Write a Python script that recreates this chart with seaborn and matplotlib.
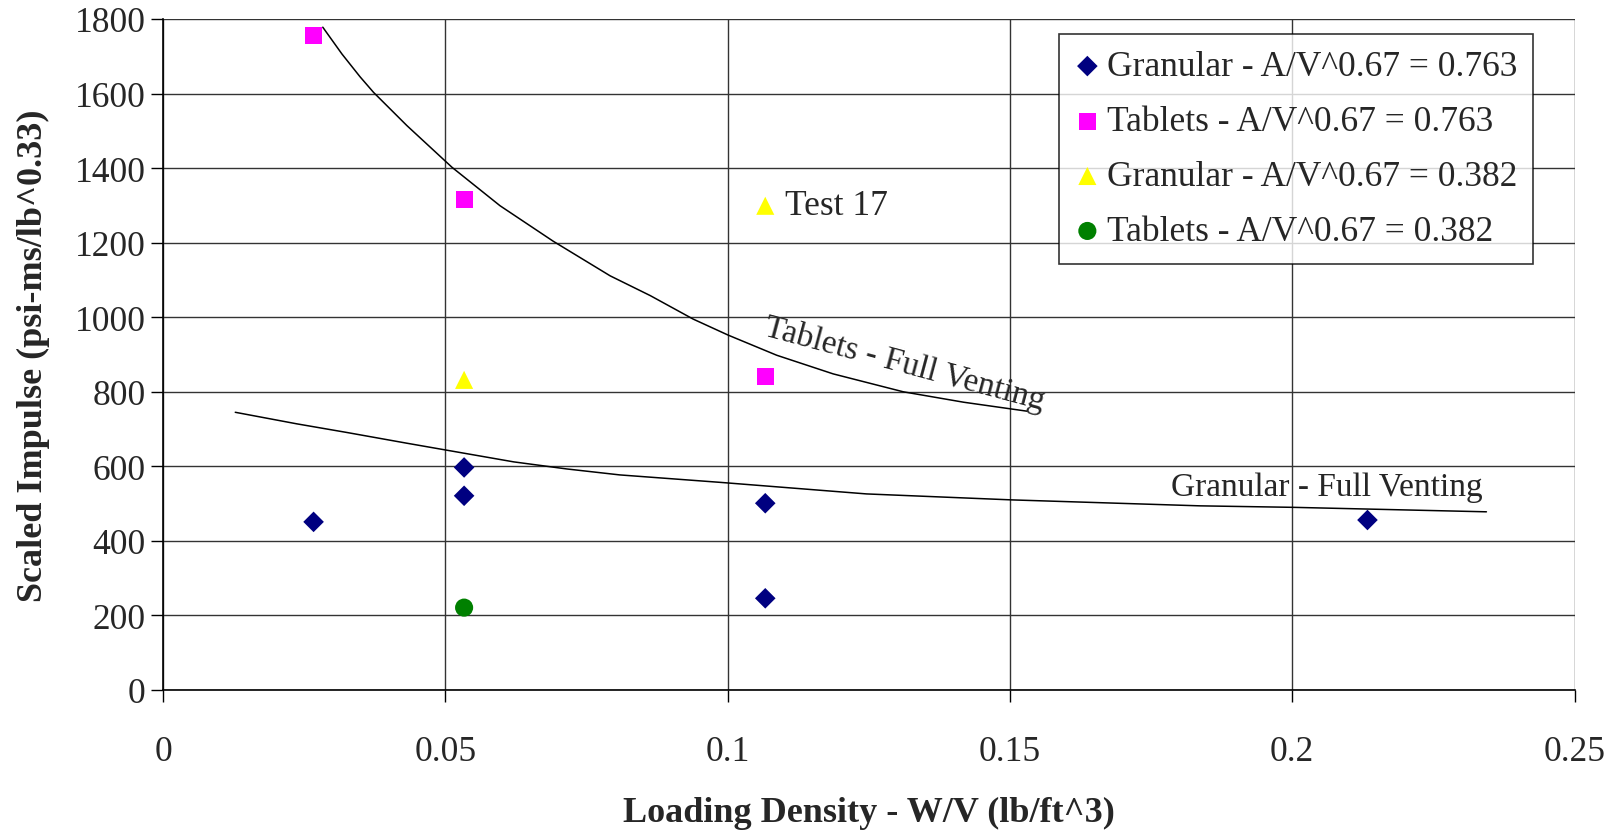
import matplotlib
matplotlib.use("Agg")
import matplotlib.pyplot as plt
import seaborn as sns
import pandas as pd

# Measured points (loading density lb/ft^3, scaled impulse psi-ms/lb^0.33)
gran_763_x = [0.02667, 0.05333, 0.05333, 0.10667, 0.10667, 0.21333]
gran_763_y = [451, 597, 521, 501, 246, 456]
tab_763_x = [0.02667, 0.05333, 0.10667]
tab_763_y = [1755, 1317, 842]
gran_382_x = [0.05333, 0.10667]
gran_382_y = [832, 1299]
tab_382_x = [0.05333]
tab_382_y = [221]

# Full-venting reference curves
tab_vent_x = [0.0283, 0.0317, 0.0349, 0.0373, 0.0432, 0.0512, 0.0597, 0.0691, 0.0792,
              0.0863, 0.0939, 0.1001, 0.1087, 0.1187, 0.1311, 0.1418, 0.1530]
tab_vent_y = [1778, 1706, 1645, 1603, 1514, 1402, 1299, 1204, 1111,
              1058, 995, 952, 898, 848, 800, 772, 748]
gran_vent_x = [0.0128, 0.0237, 0.0325, 0.0432, 0.0500, 0.0621, 0.0715, 0.0809,
               0.0987, 0.1246, 0.1503, 0.1837, 0.2002, 0.2344]
gran_vent_y = [745, 714, 691, 662, 644, 612, 593, 577,
               557, 526, 510, 494, 490, 478]

series_names = ["Granular - A/V^0.67 = 0.763", "Tablets - A/V^0.67 = 0.763",
                "Granular - A/V^0.67 = 0.382", "Tablets - A/V^0.67 = 0.382"]
series_colors = ["#000080", "#FF00FF", "#FFFF00", "#008000"]
series_markers = ["D", "s", "^", "o"]
series_sizes = [110, 150, 170, 170]

x_ticks = [0, 0.05, 0.1, 0.15, 0.2, 0.25]
x_tick_labels = ["0", "0.05", "0.1", "0.15", "0.2", "0.25"]
y_ticks = [0, 200, 400, 600, 800, 1000, 1200, 1400, 1600, 1800]

FS = 25.5

sns.set_style("white")
plt.rcParams["font.family"] = ["Liberation Serif", "DejaVu Serif"]

fig = plt.figure(figsize=(16.2, 8.37), dpi=100)
ax = fig.add_axes([163 / 1620, 1 - 691 / 837, (1574.5 - 163) / 1620, (691 - 20) / 837])

# Curves
curves = pd.DataFrame({
    "x": tab_vent_x + gran_vent_x,
    "y": tab_vent_y + gran_vent_y,
    "curve": ["tab"] * len(tab_vent_x) + ["gran"] * len(gran_vent_x),
})
sns.lineplot(data=curves, x="x", y="y", units="curve", estimator=None,
             sort=False, color="black", lw=1.1, ax=ax, legend=False, zorder=3)

# Scatter series
pts = pd.DataFrame({
    "x": gran_763_x + tab_763_x + gran_382_x + tab_382_x,
    "y": gran_763_y + tab_763_y + gran_382_y + tab_382_y,
    "series": [series_names[0]] * len(gran_763_x) + [series_names[1]] * len(tab_763_x)
              + [series_names[2]] * len(gran_382_x) + [series_names[3]] * len(tab_382_x),
})
for name, col, mk, sz in zip(series_names, series_colors, series_markers, series_sizes):
    sub = pts[pts["series"] == name]
    sns.scatterplot(data=sub, x="x", y="y", color=col, marker=mk, s=sz,
                    edgecolor="none", linewidth=0, ax=ax, label=name, zorder=4)

ax.set_xlim(0, 0.25)
ax.set_ylim(0, 1800)
ax.set_xticks(x_ticks)
ax.set_xticklabels(x_tick_labels)
ax.set_yticks(y_ticks)
ax.grid(True, color="#333333", lw=1.0)
ax.set_axisbelow(True)
for side in ["top", "right"]:
    ax.spines[side].set_visible(False)
for side in ["left", "bottom"]:
    ax.spines[side].set_color("black")
    ax.spines[side].set_linewidth(1.2)

ax.tick_params(axis="both", which="major", direction="out", length=8.5,
               width=1.0, color="black", labelsize=FS, left=True, bottom=True)
ax.tick_params(axis="x", pad=24)
ax.tick_params(axis="y", pad=4)

ax.set_xlabel("Loading Density - W/V (lb/ft^3)", fontsize=26, fontweight="bold", labelpad=20)
ax.set_ylabel("Scaled Impulse (psi-ms/lb^0.33)", fontsize=26, fontweight="bold", labelpad=18)

# Annotations
ax.annotate("Test 17", xy=(gran_382_x[1], gran_382_y[1]), xytext=(14, 0),
            textcoords="offset points", fontsize=FS, va="center", ha="left")
ax.text(0.1313, 876, "Tablets - Full Venting", fontsize=24, rotation=-15,
        rotation_mode="anchor", ha="center", va="center")
ax.text(0.2062, 545, "Granular - Full Venting", fontsize=24, ha="center", va="center")

leg = ax.legend(loc="upper left", bbox_to_anchor=(0.6348, 0.977), borderaxespad=0,
                fontsize=FS, frameon=True, fancybox=False, edgecolor="black",
                handlelength=0.7, handletextpad=0.2, labelspacing=0.62,
                borderpad=0.45, markerscale=1.0)
leg.get_frame().set_linewidth(1.2)

fig.savefig("out.png", dpi=100)
